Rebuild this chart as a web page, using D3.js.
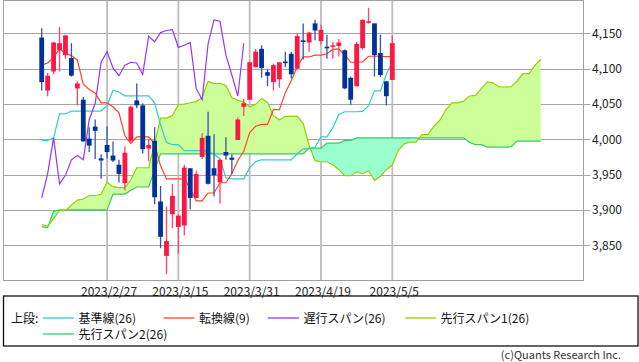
<!DOCTYPE html>
<html><head><meta charset="utf-8">
<script src="https://cdn.jsdelivr.net/npm/d3@7"></script>
<style>
body{margin:0;background:#fff;}
svg{display:block;}
text{font-family:"Noto Sans CJK JP","Noto Sans",sans-serif;}
</style>
</head><body>
<svg id="c" width="639" height="362"></svg>
<script>
// ---- data ----
const dates = ["2023/2/9","2023/2/10","2023/2/13","2023/2/14","2023/2/15","2023/2/16","2023/2/17","2023/2/21","2023/2/22","2023/2/23","2023/2/24","2023/2/27","2023/2/28",
"2023/3/1","2023/3/2","2023/3/3","2023/3/6","2023/3/7","2023/3/8","2023/3/9","2023/3/10","2023/3/13","2023/3/14","2023/3/15","2023/3/16","2023/3/17","2023/3/20","2023/3/21","2023/3/22","2023/3/23","2023/3/24","2023/3/27","2023/3/28","2023/3/29","2023/3/30","2023/3/31",
"2023/4/3","2023/4/4","2023/4/5","2023/4/6","2023/4/10","2023/4/11","2023/4/12","2023/4/13","2023/4/14","2023/4/17","2023/4/18","2023/4/19","2023/4/20","2023/4/21","2023/4/24","2023/4/25","2023/4/26","2023/4/27","2023/4/28",
"2023/5/1","2023/5/2","2023/5/3","2023/5/4","2023/5/5"];
const open = [4144,4069,4096,4126,4119,4115,4072,4056,4001,4018,
3973,3992,3977,3964,3938,3998,4055,4048,3987,3998,
3912,3835,3894,3876,3878,3959,3917,3975,4005,3959,
3939,3982,3974,3999,4046,4056,4102,4128,4095,4081,
4085,4110,4121,4100,4140,4137,4164,4139,4131,4132,
4132,4126,4087,4075,4129,4166,4164,4122,4082,4084];
const high = [4157,4094,4138,4159,4148,4136,4082,4060,4017,4028,
3979,4018,3997,3971,3990,4048,4079,4051,4000,4017,
3934,3905,3937,3894,3964,3959,3956,4009,4039,4007,
3972,4003,3979,4031,4057,4110,4128,4133,4100,4107,
4109,4124,4124,4150,4164,4152,4169,4162,4148,4138,
4142,4127,4089,4138,4170,4186,4164,4148,4082,4147];
const low = [4069,4061,4092,4096,4114,4089,4048,3997,3982,3972,
3944,3973,3968,3939,3928,3995,4044,3980,3969,3908,
3846,3809,3874,3838,3864,3901,3917,3972,3936,3919,
3909,3971,3951,3999,4033,4056,4102,4087,4075,4069,
4073,4102,4086,4100,4113,4124,4140,4134,4114,4114,
4117,4071,4049,4075,4127,4164,4089,4088,4048,4084];
const close = [4081,4090,4137,4136,4147,4090,4079,3997,3991,4012,
3970,3982,3970,3951,3981,4046,4048,3986,3992,3918,
3862,3856,3920,3892,3960,3917,3951,4002,3937,3949,
3971,3977,3971,4028,4051,4109,4124,4101,4090,4105,
4109,4108,4092,4146,4138,4151,4154,4155,4130,4133,
4137,4072,4056,4135,4169,4167,4119,4091,4061,4136];
// 転換線(9)
const tenkan = [4105,4108,4116,4128,4121.5,4118.5,4112,4078,4070.5,4065.5,
4051.5,4051.5,4046,4037.5,4005,3994,4003.5,4003.5,4003.5,3993.5,
3962.5,3944,3944,3944,3944,3930,3913,3913,3924,3924,
3938.5,3938.5,3951.5,3970,3983,4009.5,4018.5,4021,4021,4042,
4042,4066,4083,4103,4116.5,4116.5,4119,4119,4121,4127.5,
4127.5,4120,4109,4109,4109.5,4117.5,4117.5,4117.5,4117,4117];
// 基準線(26)
const kijun = [3998.5,3998.5,4002,4036,4036,4040,4040,4040,4040,4040,
4040,4047.5,4069.5,4067,4061.5,4061.5,4061.5,4061.5,4061.5,4051.5,
4020.5,3995.5,3992.5,3992.5,3984,3984,3984,3984,3984,3978.5,
3972.5,3945.5,3944,3944,3944,3959.5,3968.5,3971,3971,3971,
3971,3971,3971,3979.5,3986.5,3986.5,3989,4003.5,4003.5,4016.5,
4035,4039,4039,4039,4039.5,4047.5,4068.5,4068.5,4092.5,4109.5];
// 遅行スパン(26)
const chikou = [3917,3951,4002,3937,3949,3971,3977,3971,4028,4051,
4109,4124,4101,4090,4105,4109,4108,4092,4146,4138,
4151,4154,4155,4130,4133,4137,4072,4056,4135,4169,
4167,4119,4091,4061,4136];
// 先行スパン1(26)
const senkou1 = [3879.5,3876.75,3887.75,3899,3899,3907.25,3914,3915.5,3920.5,3920.5,
3922.25,3939.25,3933,3931.75,3931.75,3942.75,3959.75,3959.75,3959.75,3994,
4030,4030,4033.5,4049.25,4049.75,4051.75,4053.25,4059,4082,4078.75,
4079.25,4076,4059,4055.25,4052.75,4045.75,4049.5,4057.75,4052.25,4033.25,
4027.75,4032.5,4032.5,4032.5,4022.5,3991.5,3969.75,3968.25,3968.25,3964,
3957,3948.5,3948.5,3954,3951.25,3955.5,3942,3947.75,3957,3963.5,
3984.5,3993.5,3996,3996,4006.5,4006.5,4018.5,4027,4041.25,4051.5,
4051.5,4054,4061.25,4062.25,4072,4081.25,4079.5,4074,4074,4074.5,
4082.5,4093,4093,4104.75,4113.25];
// 先行スパン2(26)
const senkou2 = [3876,3875,3898,3900,3900,3900,3900,3900,3900,3900,
3900,3900,3922.5,3922.5,3922.5,3928,3932.5,3932.5,3932.5,3956,
3979.5,3979.5,3979.5,3979.5,3979.5,3979.5,3979.5,3979.5,3979.5,3979.5,
3979.5,3979.5,3979.5,3979.5,3979.5,3979.5,3979.5,3979.5,3979.5,3979.5,
3979.5,3979.5,3979.5,3979.5,3979.5,3987.5,3987.5,3987.5,3994.5,3994.5,
3994.5,3998.5,3998.5,4002,4002,4002,4002,4002,4002,4002,
4002,4002,4002,4002,4002,4002,4002,4002,4002,4002,
4002,4002,3995.5,3992.5,3992.5,3989,3989,3989,3989,3989.5,
3997.5,3997.5,3997.5,3997.5,3997.5];
const yTicks = [3850,3900,3950,4000,4050,4100,4150];
const xTickLabels = ["2023/2/27","2023/3/15","2023/3/31","2023/4/19","2023/5/5"];
const legendItems = [
  {name:"基準線(26)", color:"#33cccc"},
  {name:"転換線(9)", color:"#ff4422"},
  {name:"遅行スパン(26)", color:"#9933ff"},
  {name:"先行スパン1(26)", color:"#99cc00"},
  {name:"先行スパン2(26)", color:"#33cc66"}
];

// ---- layout ----
const svg = d3.select("#c");
const P = {l:3.5, r:583.5, t:0.5, b:280.5};
const x = d3.scaleLinear().domain([0, 59]).range([41.7, 392.3]);
const y = d3.scaleLinear().domain([3850, 4150]).range([245.3, 33.3]);

const defs = svg.append("defs");
defs.append("clipPath").attr("id","plotclip").append("rect")
  .attr("x",P.l).attr("y",P.t).attr("width",P.r-P.l).attr("height",P.b-P.t);

// grid
const grid = svg.append("g");
grid.selectAll("line.h").data(yTicks).join("line")
  .attr("x1",P.l).attr("x2",P.r+7).attr("y1",d=>Math.round(y(d))+0.5).attr("y2",d=>Math.round(y(d))+0.5)
  .attr("stroke","#a6a6a6").attr("stroke-width",1);
const tickIdx = xTickLabels.map(s=>dates.indexOf(s));
grid.selectAll("line.v").data(tickIdx).join("line")
  .attr("x1",d=>x(d)).attr("x2",d=>x(d)).attr("y1",P.t).attr("y2",P.b)
  .attr("stroke","#bdbdbd").attr("stroke-width",1.8);

// y labels
svg.append("g").selectAll("text").data(yTicks).join("text")
  .attr("x",592).attr("y",d=>y(d)+4.5).attr("font-size",12).attr("fill","#222")
  .text(d=>d3.format(",")(d));
// x labels
svg.append("g").selectAll("text").data(tickIdx).join("text")
  .attr("x",d=>x(d)+2).attr("y",296).attr("text-anchor","middle").attr("font-size",12).attr("fill","#222")
  .text(d=>xTickLabels[tickIdx.indexOf(d)]);

const plot = svg.append("g").attr("clip-path","url(#plotclip)");

// cloud
const cloud = senkou1.map((v,i)=>({i, a:v, b:senkou2[i]}));
const aboveB = d3.area().x(d=>x(d.i)).y0(-10).y1(d=>y(d.b));
const belowB = d3.area().x(d=>x(d.i)).y0(300).y1(d=>y(d.b));
defs.append("clipPath").attr("id","cA").append("path").attr("d", aboveB(cloud));
defs.append("clipPath").attr("id","cB").append("path").attr("d", belowB(cloud));
const between = d3.area().x(d=>x(d.i)).y0(d=>y(d.b)).y1(d=>y(d.a));
plot.append("g").attr("clip-path","url(#cA)").append("path").attr("d",between(cloud)).attr("fill","#ccff99");
plot.append("g").attr("clip-path","url(#cB)").append("path").attr("d",between(cloud)).attr("fill","#99ffcc");

function drawLine(vals, color){
  const ln = d3.line().x((d,i)=>x(i)).y(d=>y(d));
  plot.append("path").attr("d", ln(vals)).attr("fill","none").attr("stroke",color).attr("stroke-width",1.2);
}
drawLine(senkou2, "#33cc66");
drawLine(senkou1, "#99cc00");
drawLine(kijun, "#33cccc");
drawLine(tenkan, "#ff4422");
drawLine(chikou, "#9933ff");

// candles
const cd = open.map((o,i)=>({i,o,h:high[i],l:low[i],c:close[i]}));
const cg = plot.append("g");
cg.selectAll("line").data(cd).join("line")
  .attr("x1",d=>x(d.i)).attr("x2",d=>x(d.i)).attr("y1",d=>y(d.h)).attr("y2",d=>y(d.l))
  .attr("stroke",d=>d.c>=d.o?"#ff4466":"#3355aa").attr("stroke-width",1.3);
cg.selectAll("rect").data(cd).join("rect")
  .attr("x",d=>x(d.i)-2.4).attr("width",4.8)
  .attr("y",d=>y(Math.max(d.o,d.c)))
  .attr("height",d=>Math.max(1.6, y(Math.min(d.o,d.c))-y(Math.max(d.o,d.c))))
  .attr("fill",d=>d.c>=d.o?"#ff1744":"#003399");

// plot border
svg.append("rect").attr("x",P.l).attr("y",P.t).attr("width",P.r-P.l).attr("height",P.b-P.t)
  .attr("fill","none").attr("stroke","#a0a0a0").attr("stroke-width",1);

// legend
const lg = svg.append("g");
lg.append("rect").attr("x",3.5).attr("y",296).attr("width",634.5).attr("height",50)
  .attr("fill","none").attr("stroke","#111").attr("stroke-width",1.3);
lg.append("text").attr("x",11).attr("y",322.5).attr("font-size",12).attr("fill","#111").text("上段:");
const lpos = [{x:43,y:318},{x:163.5,y:318},{x:268,y:318},{x:405,y:318},{x:43,y:334}];
legendItems.forEach((it,k)=>{
  const p = lpos[k];
  lg.append("line").attr("x1",p.x).attr("x2",p.x+31).attr("y1",p.y).attr("y2",p.y)
    .attr("stroke",it.color).attr("stroke-width",1.3);
  lg.append("text").attr("x",p.x+35.5).attr("y",p.y+4.5).attr("font-size",12).attr("fill","#111").text(it.name);
});
svg.append("text").attr("x",621).attr("y",358.5).attr("text-anchor","end").attr("font-size",11)
  .attr("fill","#333").text("(c)Quants Research Inc.");
</script>
</body></html>
